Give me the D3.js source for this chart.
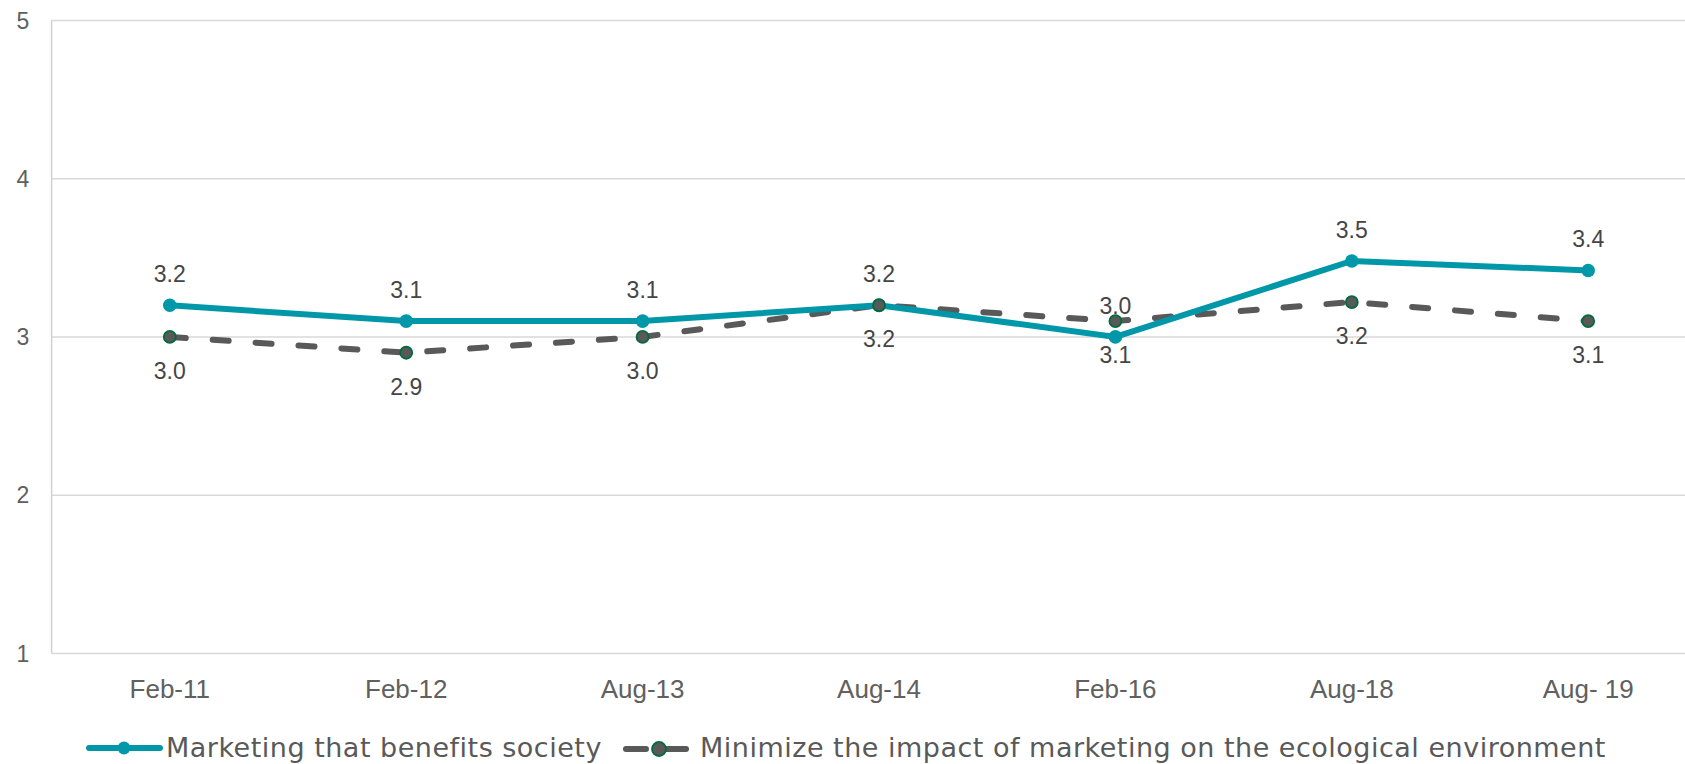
<!DOCTYPE html>
<html>
<head>
<meta charset="utf-8">
<script src="https://cdn.jsdelivr.net/npm/d3@7"></script>
<style>
  html, body { margin: 0; padding: 0; background: #fff; overflow: hidden; }
  svg { display: block; }
</style>
</head>
<body>
<svg id="chart" width="1685" height="764"></svg>
<script>
// datos
const categorias = ["Feb-11", "Feb-12", "Aug-13", "Aug-14", "Feb-16", "Aug-18", "Aug- 19"];
const beneficioSociedad = [3.2, 3.1, 3.1, 3.2, 3.0, 3.48, 3.42];
const impactoEcologico = [3.0, 2.9, 3.0, 3.2, 3.1, 3.22, 3.1];
const ticksY = [1, 2, 3, 4, 5];
const nombresSeries = [
  "Marketing that benefits society",
  "Minimize the impact of marketing on the ecological environment"
];

const svg = d3.select("#chart"),
  width = +svg.attr("width"),
  height = +svg.attr("height");

const izq = 51.6, arriba = 20.4, abajo = 653.4, der = 1706.4;
const gris = "#595959", teal = "#0098A8";
const fuente = "Liberation Sans, Arial, sans-serif";

const x = d3.scalePoint().domain(categorias).range([izq, der]).padding(0.5);
const y = d3.scaleLinear().domain([1, 5]).range([abajo, arriba]);

// lineas de la cuadricula
svg.append("g")
  .selectAll("line")
  .data(ticksY)
  .enter().append("line")
  .attr("x1", izq).attr("x2", der)
  .attr("y1", d => y(d)).attr("y2", d => y(d))
  .attr("stroke", "#d9d9d9")
  .attr("stroke-width", 1.5);

svg.append("line")
  .attr("x1", izq).attr("x2", izq)
  .attr("y1", arriba).attr("y2", abajo)
  .attr("stroke", "#d0d0d0")
  .attr("stroke-width", 1.5);

// etiquetas eje Y
svg.append("g")
  .selectAll("text")
  .data(ticksY)
  .enter().append("text")
  .attr("x", 22.8)
  .attr("y", d => y(d))
  .attr("dy", "0.36em")
  .attr("text-anchor", "middle")
  .attr("font-family", fuente)
  .attr("font-size", 23)
  .attr("fill", "#606060")
  .text(d => d);

// etiquetas eje X
svg.append("g")
  .selectAll("text")
  .data(categorias)
  .enter().append("text")
  .attr("x", d => x(d))
  .attr("y", 698)
  .attr("text-anchor", "middle")
  .attr("font-family", fuente)
  .attr("font-size", 26)
  .attr("fill", "#606060")
  .text(d => d);

const linea = d3.line()
  .x((d, i) => x(categorias[i]))
  .y(d => y(d));

const fmt = d3.format(".1f");

// serie gris discontinua
svg.append("path")
  .datum(impactoEcologico)
  .attr("d", linea)
  .attr("fill", "none")
  .attr("stroke", gris)
  .attr("stroke-width", 6)
  .attr("stroke-linecap", "round")
  .attr("stroke-dasharray", "16,27");

// serie teal
svg.append("path")
  .datum(beneficioSociedad)
  .attr("d", linea)
  .attr("fill", "none")
  .attr("stroke", teal)
  .attr("stroke-width", 6);

svg.append("g")
  .selectAll("circle")
  .data(beneficioSociedad)
  .enter().append("circle")
  .attr("cx", (d, i) => x(categorias[i]))
  .attr("cy", d => y(d))
  .attr("r", 6.8)
  .attr("fill", teal);

svg.append("g")
  .selectAll("circle")
  .data(impactoEcologico)
  .enter().append("circle")
  .attr("cx", (d, i) => x(categorias[i]))
  .attr("cy", d => y(d))
  .attr("r", 6)
  .attr("fill", gris)
  .attr("stroke", "#006b3c")
  .attr("stroke-width", 1.8);

// etiquetas de datos: teal arriba, gris abajo
svg.append("g")
  .selectAll("text")
  .data(beneficioSociedad)
  .enter().append("text")
  .attr("x", (d, i) => x(categorias[i]))
  .attr("y", d => y(d) - 23)
  .attr("text-anchor", "middle")
  .attr("font-family", fuente)
  .attr("font-size", 23)
  .attr("fill", "#454545")
  .text(d => fmt(d));

svg.append("g")
  .selectAll("text")
  .data(impactoEcologico)
  .enter().append("text")
  .attr("x", (d, i) => x(categorias[i]))
  .attr("y", d => y(d) + 42)
  .attr("text-anchor", "middle")
  .attr("font-family", fuente)
  .attr("font-size", 23)
  .attr("fill", "#454545")
  .text(d => fmt(d));

// leyenda
const ley = svg.append("g").attr("font-family", "DejaVu Sans, Verdana, sans-serif")
  .attr("font-size", 27).attr("letter-spacing", 0.5).attr("fill", gris);

ley.append("line")
  .attr("x1", 89).attr("x2", 160).attr("y1", 748).attr("y2", 748)
  .attr("stroke", teal).attr("stroke-width", 6).attr("stroke-linecap", "round");
ley.append("circle").attr("cx", 124).attr("cy", 748).attr("r", 6.5).attr("fill", teal);
ley.append("text").attr("x", 166).attr("y", 757).text(nombresSeries[0]);

ley.append("line")
  .attr("x1", 626).attr("x2", 686).attr("y1", 749).attr("y2", 749)
  .attr("stroke", gris).attr("stroke-width", 6).attr("stroke-linecap", "round")
  .attr("stroke-dasharray", "20,20");
ley.append("circle").attr("cx", 659).attr("cy", 749).attr("r", 7)
  .attr("fill", gris).attr("stroke", "#006b3c").attr("stroke-width", 1.8);
ley.append("text").attr("x", 700).attr("y", 757).text(nombresSeries[1]);
</script>
</body>
</html>
